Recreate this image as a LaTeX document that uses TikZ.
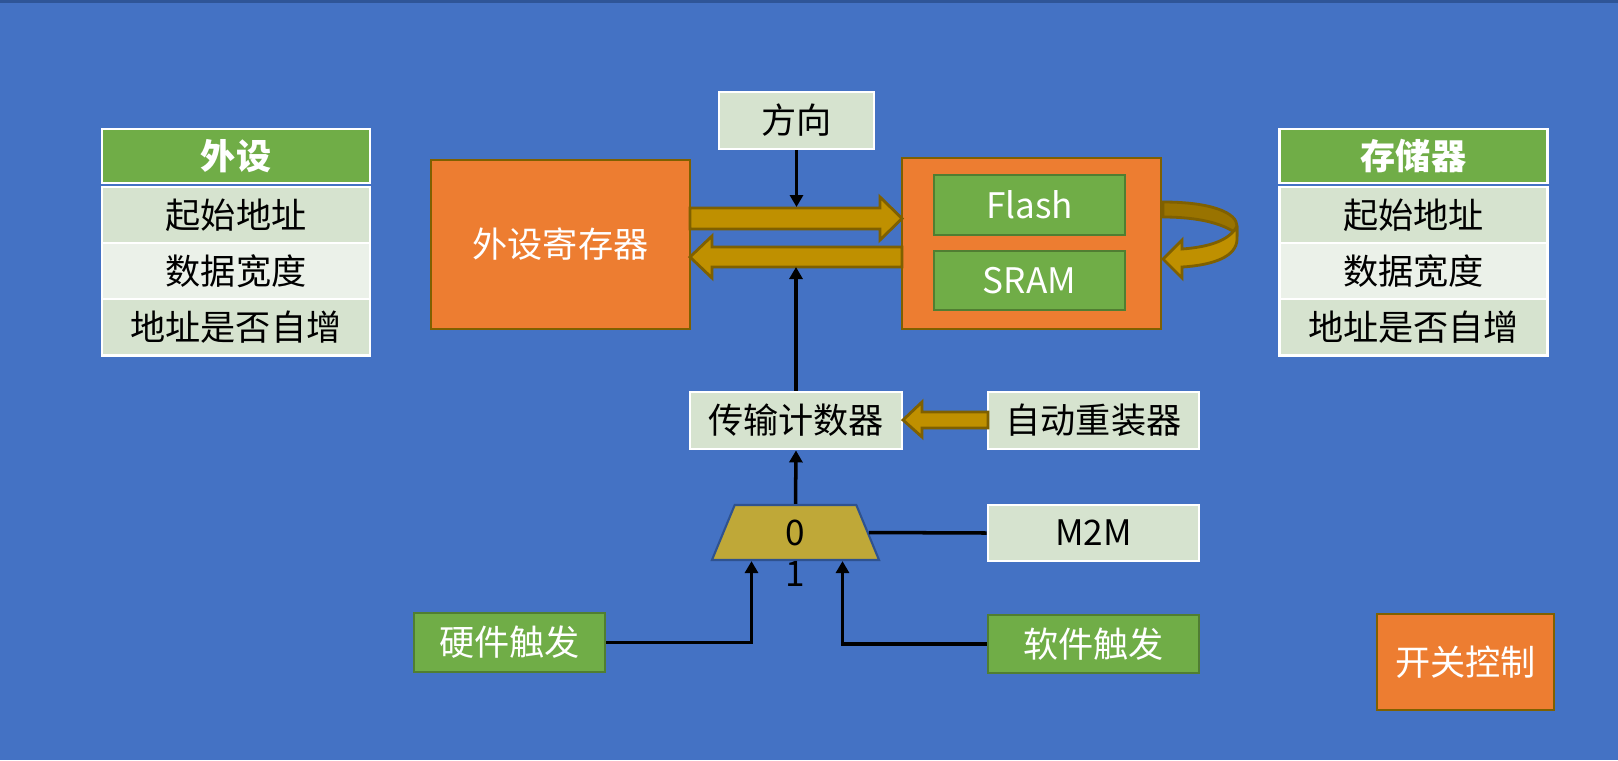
\documentclass[tikz,border=0pt]{standalone}
\usepackage{fontspec}
\setmainfont{Noto Sans CJK SC}
\usepackage{tikz}
\usetikzlibrary{arrows.meta,calc,positioning,shapes.geometric}
\definecolor{zeminMavi}{HTML}{4472C4}
\definecolor{ustCizgi}{HTML}{2F5597}
\definecolor{kutuTuruncu}{HTML}{ED7D31}
\definecolor{kutuYesil}{HTML}{70AD47}
\definecolor{yesilKenar}{HTML}{507E32}
\definecolor{acikYesil}{HTML}{D6E3CF}
\definecolor{dahaAcik}{HTML}{EBF1E9}
\definecolor{okAltin}{HTML}{BF9000}
\definecolor{koyuAltin}{HTML}{997300}
\definecolor{altinKenar}{HTML}{7F6000}
\definecolor{muxSari}{HTML}{BFA838}
\definecolor{muxKenar}{HTML}{2F528F}

\begin{document}
\begin{tikzpicture}[x=0.01cm,y=-0.01cm,font=\fontsize{10}{12}\selectfont,
  soluk/.style={draw=white,line width=0.8pt,fill=acikYesil,inner sep=0pt},
  yesil/.style={draw=yesilKenar,line width=0.8pt,fill=kutuYesil,text=white,inner sep=0pt},
  turuncu/.style={draw=altinKenar,line width=0.8pt,fill=kutuTuruncu,text=white,inner sep=0pt},
  baslik/.style={draw=white,line width=0.8pt,fill=kutuYesil,text=white,font=\fontsize{10}{12}\selectfont\bfseries,
    minimum width=2.68cm,minimum height=0.54cm,inner sep=0pt,outer sep=0pt},
  hucre/.style={soluk,minimum width=2.68cm,minimum height=0.56cm,outer sep=0pt},
  altinOk/.style={fill=okAltin,draw=altinKenar,line width=0.8pt,line join=miter},
  sinyal/.style={line width=1pt,-{Triangle[width=0.13cm,length=0.12cm]}}]
\useasboundingbox (0,0) rectangle (1618,760);
\fill[zeminMavi] (0,0) rectangle (1618,760);
\fill[ustCizgi] (0,0) rectangle (1618,3);
% sol tablo
\node[baslik] (per0) at (236,156) {外设};
\node[hucre,below=0.04cm of per0] (per1) {起始地址};
\node[hucre,fill=dahaAcik,below=0pt of per1] (per2) {数据宽度};
\node[hucre,below=0pt of per2] (per3) {地址是否自增};
% sag tablo
\node[baslik] (mem0) at (1413.5,156) {存储器};
\node[hucre,below=0.04cm of mem0] (mem1) {起始地址};
\node[hucre,fill=dahaAcik,below=0pt of mem1] (mem2) {数据宽度};
\node[hucre,below=0pt of mem2] (mem3) {地址是否自增};
% kutular
\node[turuncu,minimum width=2.59cm,minimum height=1.69cm] (reg) at (560.5,244.5) {外设寄存器};
\node[turuncu,minimum width=2.59cm,minimum height=1.71cm] (store) at (1031.5,243.5) {};
\node[yesil,minimum width=1.91cm,minimum height=0.60cm] (flash) at (1029.5,205) {Flash};
\node[yesil,minimum width=1.91cm,minimum height=0.59cm] (sram) at (1029.5,280.5) {SRAM};
\node[soluk,minimum width=1.55cm,minimum height=0.57cm] (dir) at (796.5,120.5) {方向};
\node[soluk,minimum width=2.12cm,minimum height=0.57cm] (cnt) at (796,420.5) {传输计数器};
\node[soluk,minimum width=2.11cm,minimum height=0.57cm] (reload) at (1093.5,420.5) {自动重装器};
\node[soluk,minimum width=2.11cm,minimum height=0.56cm] (mtm) at (1093.5,533) {M2M};
\node[yesil,minimum width=1.91cm,minimum height=0.59cm] (hw) at (509.5,642.5) {硬件触发};
\node[yesil,minimum width=2.11cm,minimum height=0.58cm] (sw) at (1093.5,644) {软件触发};
\node[turuncu,minimum width=1.77cm,minimum height=0.96cm] (ctrl) at (1465.5,662) {开关控制};
\node[trapezium,trapezium angle=82,trapezium stretches=true,minimum width=1.67cm,minimum height=0.55cm,
  inner sep=0pt,fill=muxSari,draw=muxKenar,line width=0.6pt] (mux) at (795.5,532.5) {0};
\node (one) at (795.5,574) {1};
% veri yolu
\draw[altinOk] (690,208) -- (880,208) -- (880,197) -- (902,218.5) -- (880,240) -- (880,229) -- (690,229) -- cycle;
\draw[altinOk] (902,247) -- (712,247) -- (712,236) -- (690,257) -- (712,278) -- (712,267) -- (902,267) -- cycle;
\draw[altinOk] (988,412) -- (922,412) -- (922,402) -- (903,420) -- (922,437) -- (922,428) -- (988,428) -- cycle;
% donen ok
\draw[fill=koyuAltin,draw=altinKenar,line width=0.8pt] (1163,202) .. controls (1212,202) and (1237,213) .. (1237,226)
  -- (1237,234) .. controls (1224,224) and (1200,217) .. (1163,217) -- cycle;
\draw[altinOk] (1237,226) -- (1237,240) .. controls (1236,256) and (1215,265) .. (1182,267) -- (1182,278)
  -- (1163,259) -- (1182,240) -- (1182,249) .. controls (1210,247) and (1230,240) .. (1237,226);
% sinyaller
\coordinate (busTop) at (796,207);
\coordinate (busBot) at (796,267);
\draw[sinyal] (dir.south) -- (dir.south |- busTop);
\draw[sinyal] (cnt.north) -- (cnt.north |- busBot);
\draw[sinyal] (mux.north) -- (cnt.south);
\draw[line width=1pt] (mtm.west) -- (mux.east);
\coordinate (muxIn1) at ($(mux.south)+(-44,0)$);
\coordinate (muxIn2) at ($(mux.south)+(47,0)$);
\draw[sinyal] (hw.east) -| (muxIn1);
\draw[sinyal] (sw.west) -| (muxIn2);
\end{tikzpicture}
\end{document}
